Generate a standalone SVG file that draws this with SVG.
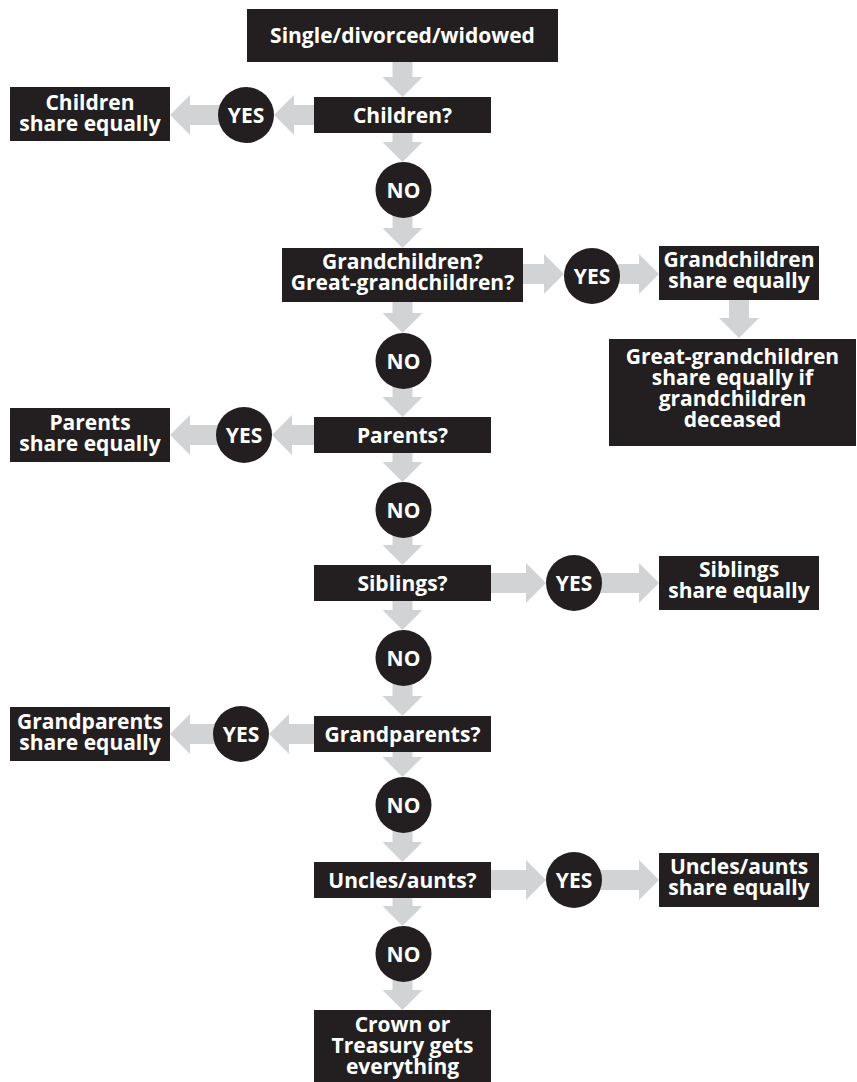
<svg xmlns="http://www.w3.org/2000/svg" width="857" height="1082" viewBox="0 0 857 1082">
<style>
.box{fill:#231f20}
.dot{fill:#231f20}
.arr{fill:#d1d3d4}
text{font-family:"Open Sans","Liberation Sans",Arial,sans-serif;font-weight:700;font-size:21px;fill:#ffffff;text-anchor:middle}
</style>
<rect width="857" height="1082" fill="#ffffff"/>
<g id="connectors">
<polygon class="arr" points="392.5,62 412.5,62 412.5,77 422.5,77 402.5,97 382.5,77 392.5,77"/>
<polygon class="arr" points="392.5,133 412.5,133 412.5,142 422.5,142 402.5,162 382.5,142 392.5,142"/>
<polygon class="arr" points="392.5,215 412.5,215 412.5,228 422.5,228 402.5,248 382.5,228 392.5,228"/>
<polygon class="arr" points="392.5,302 412.5,302 412.5,313 422.5,313 402.5,333 382.5,313 392.5,313"/>
<polygon class="arr" points="392.5,387 412.5,387 412.5,397 422.5,397 402.5,417 382.5,397 392.5,397"/>
<polygon class="arr" points="392.5,453 412.5,453 412.5,462 422.5,462 402.5,482 382.5,462 392.5,462"/>
<polygon class="arr" points="392.5,536 412.5,536 412.5,545 422.5,545 402.5,565 382.5,545 392.5,545"/>
<polygon class="arr" points="392.5,601 412.5,601 412.5,610 422.5,610 402.5,630 382.5,610 392.5,610"/>
<polygon class="arr" points="392.5,684 412.5,684 412.5,696 422.5,696 402.5,716 382.5,696 392.5,696"/>
<polygon class="arr" points="392.5,752 412.5,752 412.5,757 422.5,757 402.5,777 382.5,757 392.5,757"/>
<polygon class="arr" points="392.5,831 412.5,831 412.5,842 422.5,842 402.5,862 382.5,842 392.5,842"/>
<polygon class="arr" points="392.5,898 412.5,898 412.5,906 422.5,906 402.5,926 382.5,906 392.5,906"/>
<polygon class="arr" points="392.5,980 412.5,980 412.5,990 422.5,990 402.5,1010 382.5,990 392.5,990"/>
<polygon class="arr" points="729,299 749,299 749,318 759,318 739,338 719,318 729,318"/>
<polygon class="arr" points="314,105 314,125 294,125 294,135 274,115 294,95 294,105"/>
<polygon class="arr" points="220,105 220,125 190,125 190,135 170,115 190,95 190,105"/>
<polygon class="arr" points="314,425 314,445 292,445 292,455 272,435 292,415 292,425"/>
<polygon class="arr" points="218,425 218,445 190,445 190,455 170,435 190,415 190,425"/>
<polygon class="arr" points="314,724 314,744 289,744 289,754 269,734 289,714 289,724"/>
<polygon class="arr" points="215,724 215,744 190,744 190,754 170,734 190,714 190,724"/>
<polygon class="arr" points="523,264 523,284 544,284 544,294 564,274 544,254 544,264"/>
<polygon class="arr" points="618,264 618,284 639,284 639,294 659,274 639,254 639,264"/>
<polygon class="arr" points="491,573 491,593 526,593 526,603 546,583 526,563 526,573"/>
<polygon class="arr" points="600,573 600,593 639,593 639,603 659,583 639,563 639,573"/>
<polygon class="arr" points="491,870 491,890 526,890 526,900 546,880 526,860 526,870"/>
<polygon class="arr" points="600,870 600,890 639,890 639,900 659,880 639,860 639,870"/>
</g>
<g id="start"><rect class="box" x="247" y="9" width="311" height="53"/><text x="402.5" y="43">Single/divorced/widowed</text></g>
<g id="q-children"><rect class="box" x="314" y="97" width="177" height="36"/><text x="402.5" y="122.5">Children?</text></g>
<g id="yes-children"><circle class="dot" cx="246" cy="115" r="28"/><text x="246" y="122.5">YES</text></g>
<g id="r-children"><rect class="box" x="10" y="87" width="160" height="54"/><text x="90" y="110">Children<tspan x="90" dy="21">share equally</tspan></text></g>
<g id="no-1"><circle class="dot" cx="403.5" cy="190" r="28"/><text x="403.5" y="197.5">NO</text></g>
<g id="q-grandchildren"><rect class="box" x="282" y="248" width="241" height="54"/><text x="402.5" y="269">Grandchildren?<tspan x="402.5" dy="21">Great-grandchildren?</tspan></text></g>
<g id="yes-grandchildren"><circle class="dot" cx="592" cy="276" r="28"/><text x="592" y="283.5">YES</text></g>
<g id="r-grandchildren"><rect class="box" x="659" y="246" width="160" height="54"/><text x="739" y="267">Grandchildren<tspan x="739" dy="21">share equally</tspan></text></g>
<g id="r-great-grandchildren"><rect class="box" x="609" y="339" width="247" height="107"/><text x="732.5" y="364">Great-grandchildren<tspan x="732.5" dy="21">share equally if</tspan><tspan x="732.5" dy="21">grandchildren</tspan><tspan x="732.5" dy="21">deceased</tspan></text></g>
<g id="no-2"><circle class="dot" cx="403.5" cy="361" r="28"/><text x="403.5" y="368.5">NO</text></g>
<g id="q-parents"><rect class="box" x="314" y="417" width="177" height="36"/><text x="402.5" y="442.5">Parents?</text></g>
<g id="yes-parents"><circle class="dot" cx="244" cy="435" r="28"/><text x="244" y="442.5">YES</text></g>
<g id="r-parents"><rect class="box" x="10" y="408" width="160" height="54"/><text x="90" y="430">Parents<tspan x="90" dy="21">share equally</tspan></text></g>
<g id="no-3"><circle class="dot" cx="403.5" cy="510" r="28"/><text x="403.5" y="517.5">NO</text></g>
<g id="q-siblings"><rect class="box" x="314" y="565" width="177" height="36"/><text x="402.5" y="590.5">Siblings?</text></g>
<g id="yes-siblings"><circle class="dot" cx="574" cy="583" r="28"/><text x="574" y="590.5">YES</text></g>
<g id="r-siblings"><rect class="box" x="659" y="556" width="160" height="54"/><text x="739" y="577">Siblings<tspan x="739" dy="21">share equally</tspan></text></g>
<g id="no-4"><circle class="dot" cx="403.5" cy="658" r="28"/><text x="403.5" y="665.5">NO</text></g>
<g id="q-grandparents"><rect class="box" x="314" y="716" width="177" height="36"/><text x="402.5" y="741.5">Grandparents?</text></g>
<g id="yes-grandparents"><circle class="dot" cx="241" cy="734" r="28"/><text x="241" y="741.5">YES</text></g>
<g id="r-grandparents"><rect class="box" x="10" y="707" width="160" height="54"/><text x="90" y="729">Grandparents<tspan x="90" dy="21">share equally</tspan></text></g>
<g id="no-5"><circle class="dot" cx="403.5" cy="805" r="28"/><text x="403.5" y="812.5">NO</text></g>
<g id="q-uncles"><rect class="box" x="314" y="862" width="177" height="36"/><text x="402.5" y="887.5">Uncles/aunts?</text></g>
<g id="yes-uncles"><circle class="dot" cx="574" cy="880" r="28"/><text x="574" y="887.5">YES</text></g>
<g id="r-uncles"><rect class="box" x="659" y="853" width="160" height="54"/><text x="739" y="874">Uncles/aunts<tspan x="739" dy="21">share equally</tspan></text></g>
<g id="no-6"><circle class="dot" cx="403.5" cy="954" r="28"/><text x="403.5" y="961.5">NO</text></g>
<g id="r-crown"><rect class="box" x="314" y="1010" width="177" height="72"/><text x="402.5" y="1032">Crown or<tspan x="402.5" dy="21">Treasury gets</tspan><tspan x="402.5" dy="21">everything</tspan></text></g>
</svg>
